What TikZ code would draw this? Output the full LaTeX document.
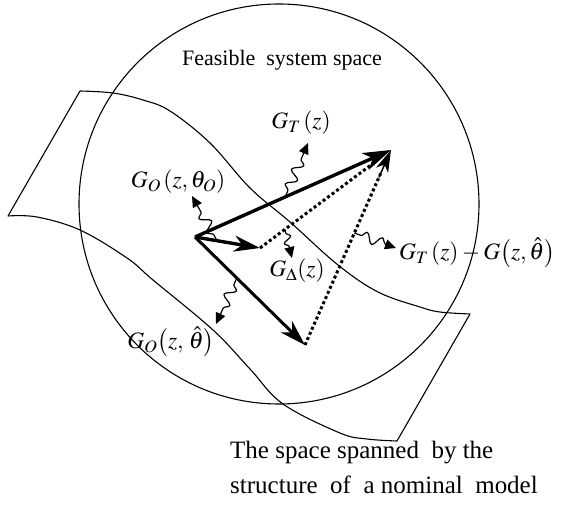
\documentclass[tikz,border=0pt]{standalone}
\usepackage{mathptmx}
\usepackage{fontspec}
\setmainfont{Liberation Serif}
\usetikzlibrary{arrows.meta,decorations.pathmorphing,calc}
\begin{document}
\begin{tikzpicture}[x=1pt,y=-1pt,
  surf/.style={line width=1.1pt},
  vecline/.style={line width=#1},
  bighead/.style={-{Stealth[length=28pt,width=18pt,inset=8pt]}},
  midhead/.style={-{Stealth[length=26pt,width=16pt,inset=8pt]}},
  smallhead/.style={-{Stealth[length=22pt,width=13pt,inset=6pt]}},
  dotline/.style={line width=3pt,dash pattern=on 3pt off 2.6pt},
  wig/.style={line width=1.2pt,decorate,decoration={snake,amplitude=5pt,segment length=16pt,pre length=7pt,post length=11pt},-{Triangle[length=11pt,width=10pt]}},
  lab/.style={font=\fontsize{23.5}{27}\selectfont,inner sep=0pt},
  txt/.style={font=\fontsize{22}{26}\selectfont,inner sep=0pt}
]
\useasboundingbox (0,0) rectangle (563,505);
% feasible system space
\draw[surf] (279,204) circle[radius=200];
\node[txt] (title) at (282,60) {Feasible\ \ system space};
% model structure surface
\draw[surf,line join=round] (80,91) -- plot[smooth,tension=0.6] coordinates {(8,216) (37,217) (80,230) (127,258) (153,280) (213,330) (250,369) (283,404) (340,433) (367,439) (397,441)}
  -- plot[smooth,tension=0.6] coordinates {(470,314) (440,312) (420,307) (378,292) (338,265) (290,222) (250,188) (210,143) (170,111) (143,100) (113,93) (80,91)};
% vectors
\coordinate (O) at (195,237);
\coordinate (T) at (391,150);
\coordinate (S) at (260,248);
\coordinate (L) at (305,345);
\draw[dotline] (S) -- ($(S)!0.86!(T)$);
\draw[dotline] (L) -- ($(L)!0.88!(T)$);
\draw[smallhead,line width=1.5pt] ($(L)!0.86!(T)$) -- (T);
\draw[vecline=3.4pt,bighead] (O) -- (T);
\draw[vecline=3.4pt,midhead] (O) -- (S);
\draw[vecline=3pt,midhead] (O) -- (L);
% labels
\node[lab] (GT) at (301,123) {$G_T\,(z)$};
\node[lab] (Go) at (178,182) {$G_O\,(z,\theta_O)$};
\node[lab] (GD) at (297,271) {$G_\Delta(z)$};
\node[lab,anchor=west] (GTG) at (399,253) {$G_T\,(z) - G\bigl(z,\hat{\theta}\bigr)$};
\node[lab] (Goh) at (171,342) {$G_O\bigl(z,\,\hat{\theta}\bigr)$};
\node[txt,font=\fontsize{25}{35}\selectfont,align=left,anchor=north west] (cap) at (230,441) {The\ space spanned\ \ by the\\ structure\ \ of\ \ a\ nominal\ \ model};
% wiggly pointers
\path (O) -- (T) coordinate[pos=0.46] (wT0);
\path (O) -- (S) coordinate[pos=0.34] (wo0);
\path (S) -- (T) coordinate[pos=0.19] (wD0);
\path (L) -- (T) coordinate[pos=0.574] (wG0);
\path (O) -- (L) coordinate[pos=0.38] (wh0);
\coordinate (wT1) at (308,143);
\coordinate (wo1) at (192,196);
\coordinate (wD1) at (292,258);
\coordinate (wG1) at (396,248);
\coordinate (wh1) at (216,324);
\draw[wig] (wT0) -- (wT1);
\draw[wig] (wo0) -- (wo1);
\draw[wig,decoration={pre length=4pt,post length=11pt,segment length=12pt,amplitude=4pt}] (wD0) -- (wD1);
\draw[wig] (wG0) -- (wG1);
\draw[wig] (wh0) -- (wh1);
\end{tikzpicture}
\end{document}
